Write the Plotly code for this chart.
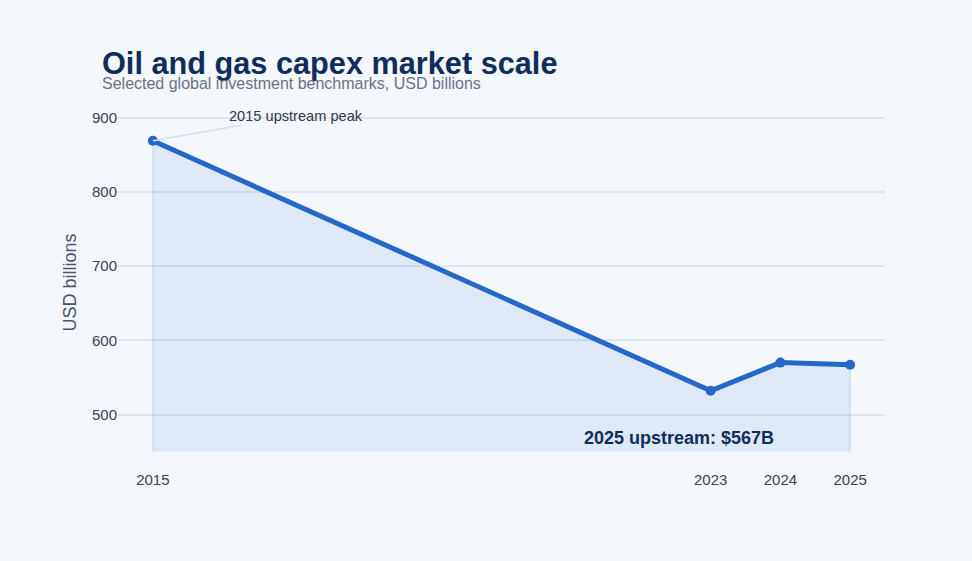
import plotly.graph_objects as go

# data
years = [2015, 2023, 2024, 2025]
capex = [869, 532, 570, 567]
baseline = 450
tick_years = [2015, 2023, 2024, 2025]
tick_labels = ["2015", "2023", "2024", "2025"]

line_color = "#2468cc"
navy = "#0f2d5c"
bg = "#f4f7fb"

fig = go.Figure()

# shaded area under the line, closed down to the baseline
area_x = [years[0]] + years + [years[-1]]
area_y = [baseline] + capex + [baseline]
fig.add_trace(go.Scatter(
    x=area_x, y=area_y,
    mode="lines",
    fill="toself",
    fillcolor="rgba(36,104,204,0.10)",
    line=dict(color="rgba(36,104,204,0.13)", width=1.5),
    hoverinfo="skip",
    showlegend=False,
))

fig.add_trace(go.Scatter(
    x=years, y=capex,
    mode="lines+markers",
    line=dict(color=line_color, width=5),
    marker=dict(color=line_color, size=10),
    name="Upstream capex",
    showlegend=False,
))

fig.add_annotation(
    x=years[0], y=capex[0], xref="x", yref="y",
    text="2015 upstream peak",
    showarrow=True, arrowhead=0, arrowwidth=1.5,
    arrowcolor="#d5e0ef",
    ax=143, ay=-25,
    font=dict(size=14.6, color="#2f3a4f"),
)

fig.add_annotation(
    x=2022.55, y=469, xref="x", yref="y",
    text=f"<b>2025 upstream: ${capex[-1]}B</b>",
    showarrow=False,
    font=dict(size=18, color=navy),
)

# title and subtitle
fig.add_annotation(
    x=-0.024, y=1.109, xref="paper", yref="paper",
    xanchor="left", yanchor="middle",
    text="<b>Oil and gas capex market scale</b>",
    showarrow=False,
    font=dict(size=30.7, color=navy),
)
fig.add_annotation(
    x=-0.024, y=1.053, xref="paper", yref="paper",
    xanchor="left", yanchor="middle",
    text="Selected global investment benchmarks, USD billions",
    showarrow=False,
    font=dict(size=16, color="#6b7385"),
)

fig.update_layout(
    width=972, height=561,
    paper_bgcolor=bg,
    plot_bgcolor=bg,
    margin=dict(l=118, r=87, t=103, b=99),
    font=dict(family="Liberation Sans, Arial", size=15, color="#3a4256"),
    xaxis=dict(
        range=[2014.5, 2025.5],
        tickvals=tick_years,
        ticktext=tick_labels,
        showgrid=False,
        zeroline=False,
        showline=False,
        ticks="",
        ticklabelstandoff=7,
    ),
    yaxis=dict(
        title=dict(text="USD billions", font=dict(size=18, color="#4a5368"), standoff=10),
        range=[436, 920],
        tickvals=[500, 600, 700, 800, 900],
        gridcolor="#dde5f0",
        gridwidth=1.5,
        zeroline=False,
        showline=False,
        ticks="",
    ),
)

fig.write_html(
    "out.html",
    config={"displayModeBar": False},
    post_script=f"document.body.style.margin='0';document.body.style.background='{bg}';",
)
